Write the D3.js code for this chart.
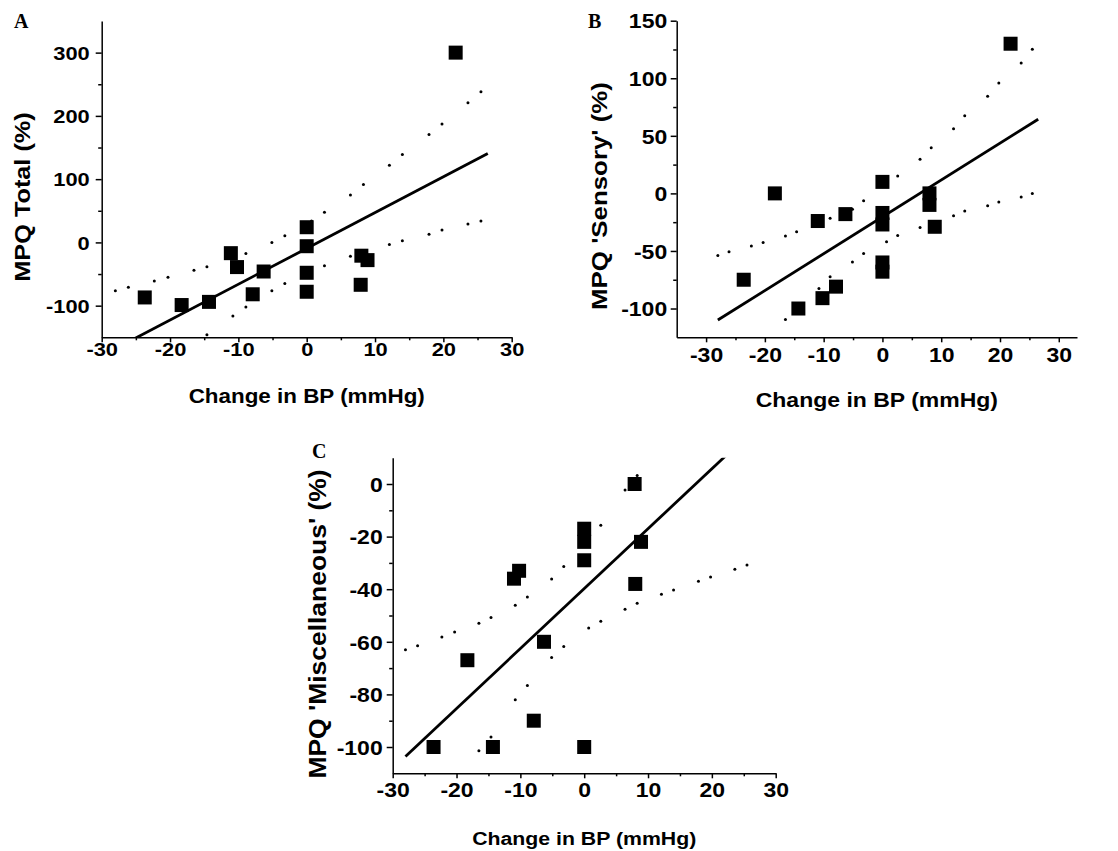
<!DOCTYPE html>
<html>
<head>
<meta charset="utf-8">
<script src="https://cdn.jsdelivr.net/npm/d3@7"></script>
<style>
  body { margin: 0; background: #fff; }
  svg { display: block; }
  text { font-family: "Liberation Sans", Arial, sans-serif; font-weight: bold; fill: #000; }
  .tick line, .domain { stroke: #000; stroke-width: 1.5; }
</style>
</head>
<body>
<svg id="chart" width="1118" height="851"></svg>
<script>
// values
// panel A - MPQ Total
let bpA = [-23.7, -18.3, -14.3, -11.1, -10.2, -7.9, -6.3, 0, 0, 0, 0, 8.0, 8.9, 7.9, 21.8];
let mpqTotal = [-87, -99, -94, -17, -39, -82, -46, 24, -6, -48, -78, -21, -28, -67, 300];
// panel B - MPQ 'Sensory'
let bpB = [-23.6, -18.3, -14.3, -11.0, -10.2, -7.9, -6.3, 0, 0, 0, 0, 0, 8.0, 8.0, 8.9, 21.8];
let mpqSensory = [-75, 0, -100, -24, -91, -81, -18, 10, -17, -27, -60, -68, 0, -10, -29, 130];
// panel C - MPQ 'Miscellaneous'
let bpC = [-23.6, -18.3, -14.3, -11.0, -10.2, -7.9, -6.3, 0, 0, 0, 0, 7.9, 8.9, 8.0];
let mpqMisc = [-100, -67, -100, -36, -33, -90, -60, -100, -17, -22, -29, 0, -22, -38];

// fitted lines (end points)
let fitX = [-28, 26.5];
let fitA = [-168, 140.5];
let fitB = [-110, 64.4];
let fitC = [-103.6, 20.6];

// 95% bands, sampled where the dots are
let bandX = [-28, -26.1, -22.3, -20.3, -16.5, -14.6, -10.8, -8.9, -5.1, -3.2, 0.7, 2.6, 6.4, 8.3, 12.1, 14, 17.9, 19.8, 23.6, 25.5];
let upperA = [-76.5, -71, -61, -55, -44, -38.5, -25, -17.5, 0, 10.5, 34, 47.5, 75, 91.7, 122, 139, 170.7, 187, 220.7, 238];
let lowerA = [-260, -243, -210, -194, -162, -146, -116.5, -102, -76.5, -65, -45, -37, -21.7, -16.7, -3.2, 2.6, 13, 19.5, 29, 33.7];
let upperB = [-53.9, -50.7, -45.8, -42.6, -37.1, -33.4, -27, -21.7, -13.7, -6.4, 7.6, 15, 29.6, 39.7, 56.2, 67.5, 84.3, 95.9, 113.3, 125.2];
let lowerB = [-166, -157, -138, -128, -109.6, -100.8, -82.6, -72.5, -59.5, -52.2, -42, -36.5, -29.6, -26, -19.5, -15.4, -10.7, -7.5, -3.2, 0];
let upperC = [-63, -61.5, -58.2, -56.3, -52.9, -50.8, -46.1, -43, -36.1, -31.4, -20.8, -15.7, -2.3, 3.2, 17.5, 24.5, 39, 46, 60.4, 67.4];
let lowerC = [-144, -137, -123, -116, -101.4, -96.2, -82, -76.6, -66, -61.8, -54.8, -52.2, -47.6, -45.3, -41.9, -40.3, -37, -35.4, -32.4, -30.8];

// tick values
let xMajor = [-30, -20, -10, 0, 10, 20, 30];
let xMinor = [-25, -15, -5, 5, 15, 25];
let yMajorA = [-100, 0, 100, 200, 300];
let yMinorA = [-50, 50, 150, 250];
let yMajorB = [-100, -50, 0, 50, 100, 150];
let yMinorB = [-75, -25, 25, 75, 125];
let yMajorC = [-100, -80, -60, -40, -20, 0];
let yMinorC = [-90, -70, -50, -30, -10];

let stretch = 1.15; // the lettering in the figure is a bit wider than Arial

let panels = [
	{
		id: 'A', xs: bpA, ys: mpqTotal, fit: fitA, upper: upperA, lower: lowerA,
		xDomain: [-30, 30], yDomain: [-150, 350], yMajor: yMajorA, yMinor: yMinorA,
		left: 101.7, right: 511.7, top: 21, bottom: 337.3,
		yTitle: 'MPQ Total (%)', yTitleX: 30, yTitleY: 197, yTitleSize: 22,
		xTitleY: 403, xTitleSize: 19.5, tickSize: 19, yGap: 12, xGap: 5.5,
		label: [14, 28]
	},
	{
		id: 'B', xs: bpB, ys: mpqSensory, fit: fitB, upper: upperB, lower: lowerB,
		xDomain: [-35, 33.1], yDomain: [-125, 150], yMajor: yMajorB, yMinor: yMinorB,
		left: 676.7, right: 1077, top: 20.7, bottom: 337.3,
		yTitle: "MPQ 'Sensory' (%)", yTitleX: 607, yTitleY: 196, yTitleSize: 22.5,
		xTitleY: 407, xTitleSize: 20, tickSize: 20, yGap: 9.5, xGap: 10.5,
		label: [588, 28]
	},
	{
		id: 'C', xs: bpC, ys: mpqMisc, fit: fitC, upper: upperC, lower: lowerC,
		xDomain: [-30, 30], yDomain: [-110, 10], yMajor: yMajorC, yMinor: yMinorC,
		left: 392.7, right: 775.7, top: 457.7, bottom: 773.3,
		yTitle: "MPQ 'Miscellaneous' (%)", yTitleX: 326, yTitleY: 624, yTitleSize: 23,
		xTitleY: 845, xTitleSize: 18.5, tickSize: 20, yGap: 10, xGap: 10,
		label: [312, 458]
	}
];

let svg = d3.select('#chart');

function drawPanel(p) {
	let x = d3.scaleLinear().domain(p.xDomain).range([p.left, p.right]);
	let y = d3.scaleLinear().domain(p.yDomain).range([p.bottom, p.top]);

	let g = svg.append('g');

	// clip to the plotting area
	g.append('clipPath')
		.attr('id', 'clip' + p.id)
		.append('rect')
		.attr('x', p.left)
		.attr('y', p.top)
		.attr('width', p.right - p.left)
		.attr('height', p.bottom - p.top);

	let plot = g.append('g').attr('clip-path', 'url(#clip' + p.id + ')');

	// confidence band dots
	let band = bandX.map((bx, i) => [bx, p.upper[i]]).concat(bandX.map((bx, i) => [bx, p.lower[i]]));
	plot.selectAll('circle.band')
		.data(band)
		.enter()
		.append('circle')
		.attr('class', 'band')
		.attr('cx', (d) => x(d[0]))
		.attr('cy', (d) => y(d[1]))
		.attr('r', 1.5)
		.attr('fill', '#000');

	// fitted line
	let line = d3.line().x((d) => x(d[0])).y((d) => y(d[1]));
	plot.append('path')
		.datum(fitX.map((fx, i) => [fx, p.fit[i]]))
		.attr('d', line)
		.attr('fill', 'none')
		.attr('stroke', '#000')
		.attr('stroke-width', 2.8);

	// data squares
	let s = 14;
	plot.selectAll('rect.pt')
		.data(p.xs.map((v, i) => [v, p.ys[i]]))
		.enter()
		.append('rect')
		.attr('class', 'pt')
		.attr('x', (d) => x(d[0]) - s / 2)
		.attr('y', (d) => y(d[1]) - s / 2)
		.attr('width', s)
		.attr('height', s)
		.attr('fill', '#000');

	// axes
	let fmt = (d) => String(d);
	let xAxis = g.append('g')
		.attr('transform', 'translate(0,' + p.bottom + ')')
		.call(d3.axisBottom(x).tickValues(xMajor).tickFormat(fmt).tickSize(5).tickSizeOuter(0));
	g.append('g')
		.attr('transform', 'translate(0,' + p.bottom + ')')
		.call(d3.axisBottom(x).tickValues(xMinor).tickFormat('').tickSize(3).tickSizeOuter(0))
		.select('.domain').remove();
	xAxis.selectAll('.tick text')
		.attr('y', p.xGap)
		.attr('dy', '0.71em')
		.attr('transform', 'scale(' + stretch + ',1)')
		.style('font-size', p.tickSize + 'px');

	let yAxis = g.append('g')
		.attr('transform', 'translate(' + p.left + ',0)')
		.call(d3.axisLeft(y).tickValues(p.yMajor).tickFormat(fmt).tickSize(6).tickSizeOuter(0));
	g.append('g')
		.attr('transform', 'translate(' + p.left + ',0)')
		.call(d3.axisLeft(y).tickValues(p.yMinor).tickFormat('').tickSize(3.5).tickSizeOuter(0))
		.select('.domain').remove();
	yAxis.selectAll('.tick text')
		.attr('x', -p.yGap / stretch)
		.attr('dy', '0.36em')
		.attr('transform', 'scale(' + stretch + ',1)')
		.style('font-size', p.tickSize + 'px');

	// titles
	g.append('text')
		.attr('transform', 'translate(' + (p.left + p.right) / 2 + ',' + p.xTitleY + ') scale(' + stretch + ',1)')
		.attr('text-anchor', 'middle')
		.style('font-size', p.xTitleSize + 'px')
		.text('Change in BP (mmHg)');

	g.append('text')
		.attr('transform', 'translate(' + p.yTitleX + ',' + p.yTitleY + ') rotate(-90) scale(' + stretch + ',1)')
		.attr('text-anchor', 'middle')
		.style('font-size', p.yTitleSize + 'px')
		.text(p.yTitle);

	g.append('text')
		.attr('x', p.label[0])
		.attr('y', p.label[1])
		.style('font-family', '"Liberation Serif", "Times New Roman", serif')
		.style('font-size', '20px')
		.text(p.id);
}

panels.forEach(drawPanel);
</script>
</body>
</html>
